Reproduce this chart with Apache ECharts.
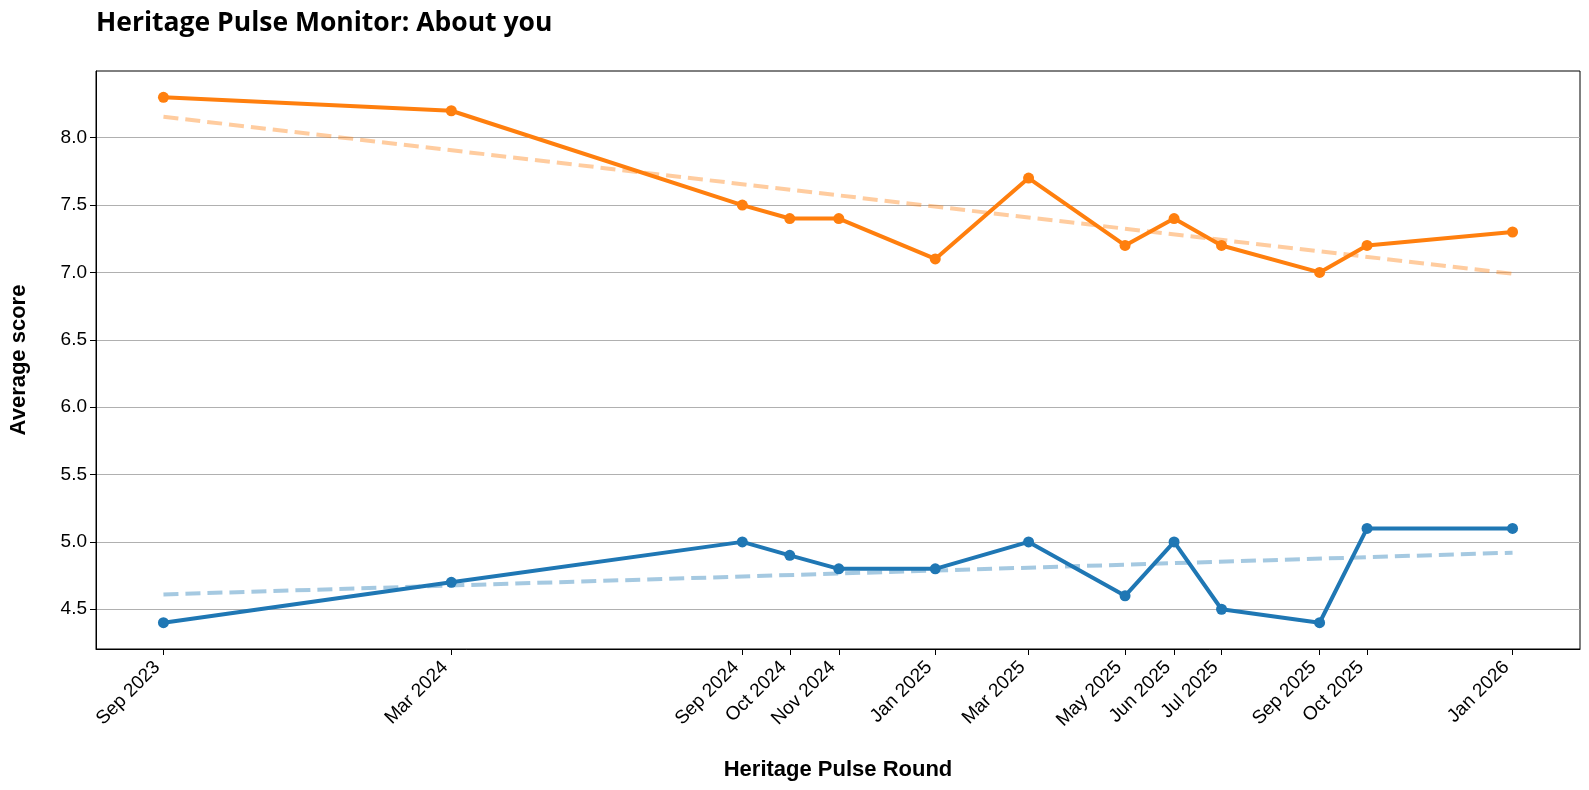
<!DOCTYPE html>
<html><head><meta charset="utf-8">
<script src="https://cdn.jsdelivr.net/npm/echarts@6/dist/echarts.min.js"></script>
<style>html,body{margin:0;padding:0;background:#fff}#c{width:1589px;height:790px}</style>
</head><body><div id="c"></div>
<script>
const rounds = ['2023-09-01','2024-03-01','2024-09-01','2024-10-01','2024-11-01','2025-01-01','2025-03-01','2025-05-01','2025-06-01','2025-07-01','2025-09-01','2025-10-01','2026-01-01'];
const orangeScores = [8.3,8.2,7.5,7.4,7.4,7.1,7.7,7.2,7.4,7.2,7.0,7.2,7.3];
const blueScores = [4.4,4.7,5.0,4.9,4.8,4.8,5.0,4.6,5.0,4.5,4.4,5.1,5.1];
const orangeTrend = [8.155,6.99];
const blueTrend = [4.61,4.92];
const yTicks = [4.5,5.0,5.5,6.0,6.5,7.0,7.5,8.0];
const monthNames = ['Jan','Feb','Mar','Apr','May','Jun','Jul','Aug','Sep','Oct','Nov','Dec'];

const ts = rounds.map(d => Date.parse(d + 'T00:00:00Z'));
const span = ts[ts.length-1] - ts[0];
const xMin = ts[0] - span*0.05, xMax = ts[ts.length-1] + span*0.05;
const fmt = v => { const d = new Date(v); return monthNames[d.getUTCMonth()] + ' ' + d.getUTCFullYear(); };

const ORANGE = '#ff7f0e', BLUE = '#1f77b4';
const font = '"Liberation Sans", Arial, sans-serif';

const chart = echarts.init(document.getElementById('c'), null, {renderer:'canvas'});
chart.setOption({
  animation: false,
  backgroundColor: '#fff',
  title: {
    text: 'Heritage Pulse Monitor: About you',
    left: 91, top: 5,
    textStyle: {fontFamily: '"Open Sans", sans-serif', fontWeight: 700, fontSize: 26.5, color: '#000'}
  },
  grid: {left: 96, right: 9, top: 71, bottom: 141, outerBoundsMode: 'none', containLabel: false,
         show: true, borderColor: '#000', borderWidth: 1, backgroundColor: 'transparent'},
  xAxis: {
    type: 'value', min: xMin, max: xMax,
    name: 'Heritage Pulse Round', nameLocation: 'middle', nameGap: 110,
    nameTextStyle: {fontFamily: font, fontWeight: 'bold', fontSize: 22, color: '#000'},
    axisLine: {show: true, lineStyle: {color: '#000', width: 1}},
    axisTick: {show: true, length: 6, customValues: ts, lineStyle: {color: '#000'}},
    axisLabel: {customValues: ts, rotate: 45, formatter: fmt, fontFamily: font, fontSize: 19, color: '#000', margin: 9, padding: [0, 9, 0, 0]},
    splitLine: {show: false}
  },
  yAxis: {
    type: 'value', min: 4.205, max: 8.495,
    name: 'Average score', nameLocation: 'middle', nameGap: 66, nameRotate: 90,
    nameTextStyle: {fontFamily: font, fontWeight: 'bold', fontSize: 22, color: '#000'},
    axisLine: {show: true, lineStyle: {color: '#000', width: 1}},
    axisTick: {show: true, length: 6, customValues: yTicks, lineStyle: {color: '#000'}},
    axisLabel: {customValues: yTicks, formatter: v => v.toFixed(1), fontFamily: font, fontSize: 19, color: '#000', margin: 9},
    splitLine: {show: true, lineStyle: {color: '#b0b0b0', width: 1}}
  },
  series: [
    {type: 'line', name: 'orangeTrend', data: [[ts[0], orangeTrend[0]], [ts[ts.length-1], orangeTrend[1]]],
     showSymbol: false, symbol: 'none', lineStyle: {color: ORANGE, opacity: 0.4, width: 4, type: [15, 7]}, z: 1},
    {type: 'line', name: 'blueTrend', data: [[ts[0], blueTrend[0]], [ts[ts.length-1], blueTrend[1]]],
     showSymbol: false, symbol: 'none', lineStyle: {color: BLUE, opacity: 0.4, width: 4, type: [15, 7]}, z: 1},
    {type: 'line', name: 'orange', data: ts.map((t,i) => [t, orangeScores[i]]),
     symbol: 'circle', symbolSize: 11, itemStyle: {color: ORANGE}, lineStyle: {color: ORANGE, width: 4}, z: 3},
    {type: 'line', name: 'blue', data: ts.map((t,i) => [t, blueScores[i]]),
     symbol: 'circle', symbolSize: 11, itemStyle: {color: BLUE}, lineStyle: {color: BLUE, width: 4}, z: 3}
  ]
});
</script></body></html>
